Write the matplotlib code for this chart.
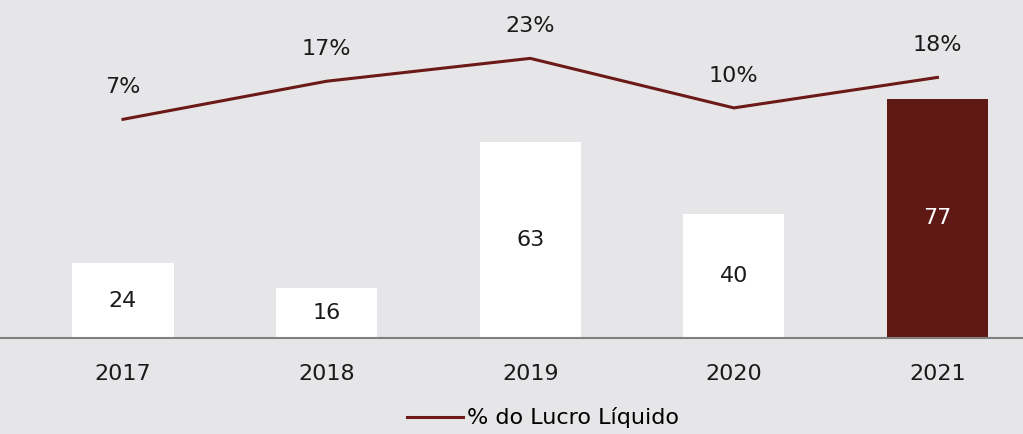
import matplotlib.pyplot as plt
import numpy as np

years = ['2017', '2018', '2019', '2020', '2021']
valores = [24, 16, 63, 40, 77]
pct_lucro = [7, 17, 23, 10, 18]

bg = '#E6E6E8'
vinho = '#5E1914'
linha_cor = '#6B1A17'

plt.rcParams['font.family'] = ['DejaVu Sans']

fig = plt.figure(figsize=(10.23, 4.34), dpi=100, facecolor=bg)
ax = fig.add_axes([0, 0.2212, 1, 0.7558], facecolor=bg)

x = np.arange(len(years))
cores = ['white'] * (len(years) - 1) + [vinho]
bars = ax.bar(x, valores, width=0.497, color=cores, zorder=2)
for b, v, c in zip(bars, valores, cores):
    ax.text(b.get_x() + b.get_width() / 2, v / 2, str(v), ha='center', va='center',
            fontsize=16, color='white' if c == vinho else '#1a1a1a', zorder=3)

ax.set_xlim(-0.604, 4.42)
ax.set_ylim(0, 105.5)
ax.set_yticks([])
ax.set_xticks(x)
ax.set_xticklabels(years, fontsize=16, color='#1a1a1a')
ax.tick_params(axis='x', length=0, pad=19)
for s in ['top', 'right', 'left']:
    ax.spines[s].set_visible(False)
ax.spines['bottom'].set_color('#808080')
ax.spines['bottom'].set_linewidth(1.5)

ax2 = ax.twinx()
ax2.set_ylim(-50.4, 35.7)
ln, = ax2.plot(x, pct_lucro, color=linha_cor, lw=2.2, zorder=4, label='% do Lucro Líquido')
for xi, p in zip(x, pct_lucro):
    ax2.annotate(f'{p}%', (xi, p), xytext=(0, 23), textcoords='offset points',
                 ha='center', va='center', fontsize=16, color='#1a1a1a')
ax2.axis('off')

fig.legend(handles=[ln], loc='center', bbox_to_anchor=(0.531, 0.037), frameon=False,
           fontsize=16, handlelength=2.5, handletextpad=0.2)

fig.savefig('out.png', dpi=100, facecolor=bg)
